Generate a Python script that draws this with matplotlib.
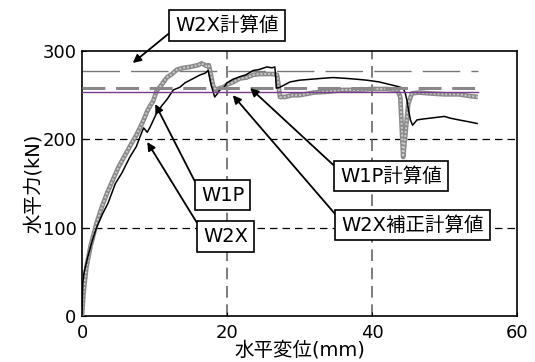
import numpy as np
import matplotlib
matplotlib.use('Agg')
import matplotlib.pyplot as plt

plt.rcParams['font.family'] = ['DejaVu Sans', 'Noto Sans CJK JP']

# W2X test curve (black thin)
w2x_x = [0, 0.1, 0.3, 0.8, 1.4, 2.0, 2.8, 3.6, 4.6, 5.5, 6.6, 7.5, 8.0, 8.5, 9.0, 9.4,
         10.3, 11.0, 11.7, 12.6, 13.5, 14.2, 14.9, 15.6, 16.3, 17.0, 17.4, 17.6, 17.8,
         18.3, 18.7, 19.0, 19.6, 20.0, 20.8, 21.8, 22.6, 23.6, 24.4, 25.5, 26.2, 26.6,
         26.7, 26.8, 27.3, 28.0, 28.7, 30.0, 31.5, 33.0, 34.6, 36.5, 38.0, 39.3, 41.0,
         42.5, 43.5, 44.3, 44.6, 44.8, 45.0, 45.3, 45.6, 46.2, 47.0, 48.0, 49.0, 50.0,
         50.8, 52.0, 53.3, 54.5]
w2x_y = [0, 38, 50, 67, 85, 100, 115, 128, 150, 162, 180, 192, 203, 213, 208, 214,
         230, 238, 245, 256, 259, 264, 267, 270, 273, 275, 278, 270, 262,
         248, 252, 256, 259, 264, 268, 271, 273, 278, 279, 282, 281, 282,
         273, 258, 259, 262, 265, 267, 268, 269, 270, 269, 268, 267, 265,
         262, 260, 258, 252, 245, 235, 222, 216, 222, 223, 224, 225, 226,
         224, 222, 220, 218]

# W1P test curve (thick grey)
w1p_x = [0, 0.2, 0.6, 1.2, 2.0, 2.8, 3.5, 4.3, 5.0, 5.8, 6.6, 7.5, 8.4, 9.0, 9.4, 9.8,
         10.3, 11.0, 11.7, 12.4, 13.1, 14.0, 14.9, 16.0, 16.5, 17.2, 17.5, 17.8, 18.1,
         18.5, 19.0, 19.5, 20.0, 20.9, 21.8, 22.7, 23.6, 24.5, 25.5, 26.3, 26.9, 27.1,
         27.3, 28.0, 29.0, 30.0, 32.0, 34.0, 36.0, 38.0, 40.0, 42.0, 43.5, 43.9, 44.1,
         44.3, 44.6, 45.0, 45.5, 46.5, 48.0, 50.0, 52.0, 53.5, 54.6]
w1p_y = [0, 25, 55, 80, 105, 125, 140, 155, 168, 180, 192, 205, 220, 232, 238, 243,
         255, 262, 270, 274, 279, 281, 282, 284, 286, 283, 284, 272, 260,
         256, 258, 259, 262, 265, 269, 270, 273, 274, 274, 274, 273, 262,
         248, 248, 250, 250, 253, 254, 256, 256, 257, 257, 256, 248, 215,
         180, 205, 240, 252, 253, 252, 251, 251, 249, 248]

# calculated values (kN)
w2x_calc = 277
w1p_calc = 258
w2x_corr = 254
calc_xmax = 54.6

fig = plt.figure(figsize=(5.35, 3.62), dpi=100)
ax = fig.add_axes([0.1533, 0.127, 0.813, 0.732])

# grid
for yv in [100, 200]:
    ax.axhline(yv, color='black', lw=0.9, dashes=(6, 4), zorder=1)
for xv in [20, 40]:
    ax.axvline(xv, color='#666666', lw=1.2, dashes=(7, 4), zorder=1)

ax.plot([0, calc_xmax], [w2x_calc, w2x_calc], color='#777777', lw=1.0, dashes=(27, 8), zorder=2)
ax.plot(w1p_x, w1p_y, color='#8a8a8a', lw=3.4, zorder=3, solid_capstyle='butt')
ax.plot(w1p_x, w1p_y, color='#cccccc', lw=1.4, ls=(0, (1, 1)), zorder=3)
ax.plot(w2x_x, w2x_y, color='black', lw=1.1, zorder=4)
ax.plot([0, calc_xmax], [w1p_calc, w1p_calc], color='#888888', lw=2.2, dashes=(7.5, 3.5), zorder=5)
ax.plot([0, calc_xmax], [w2x_corr, w2x_corr], color='#7a3a8a', lw=1.0, zorder=6)

ax.set_xlim(0, 60)
ax.set_ylim(0, 300)
ax.set_xticks([0, 20, 40, 60])
ax.set_yticks([0, 100, 200, 300])
ax.tick_params(direction='in', length=3, labelsize=13, pad=4)
ax.tick_params(axis='x', pad=6)
for s in ax.spines.values():
    s.set_linewidth(1.2)
ax.set_xlabel('水平変位(mm)', fontsize=14, labelpad=-1)
ax.set_ylabel('水平力(kN)', fontsize=14, labelpad=0)

box = dict(boxstyle='square,pad=0.3', fc='white', ec='black', lw=1.2)
arr = dict(arrowstyle='-|>', color='black', lw=1.3, mutation_scale=12, shrinkA=0, shrinkB=0)

notes = [
    ('W2X計算値', (20.0, 329), (7.0, 286.5), 0.35),
    ('W1P', (19.4, 137), (10.1, 240), 0.58),
    ('W2X', (19.8, 90), (9.0, 197), 0.7),
    ('W1P計算値', (42.6, 158.5), (23.2, 258), 0.76),
    ('W2X補正計算値', (45.6, 103), (20.8, 250), 0.7),
]
for txt, tpos, target, ry in notes:
    a = dict(arr)
    a['relpos'] = (0, ry)
    ax.annotate(txt, xy=target, xytext=tpos, fontsize=14, ha='center', va='center',
                bbox=box, arrowprops=a, annotation_clip=False, zorder=10)

fig.savefig('out.png', dpi=100)
